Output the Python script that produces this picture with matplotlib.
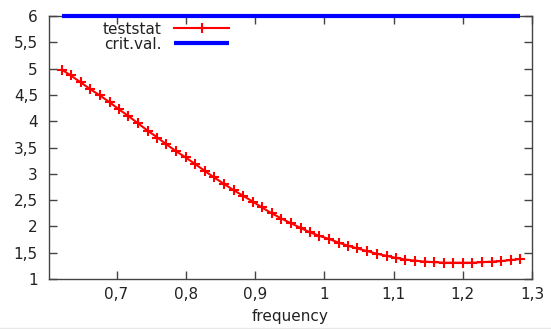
import matplotlib
matplotlib.use('Agg')
import matplotlib.pyplot as plt
import matplotlib.ticker as ticker
from matplotlib.lines import Line2D

# values
frequency = [0.621, 0.634, 0.648, 0.662, 0.676, 0.690, 0.703, 0.717, 0.731, 0.745,
             0.759, 0.772, 0.786, 0.800, 0.814, 0.828, 0.841, 0.855, 0.869, 0.883,
             0.897, 0.910, 0.924, 0.938, 0.952, 0.966, 0.979, 0.993, 1.007, 1.021,
             1.035, 1.048, 1.062, 1.076, 1.090, 1.104, 1.117, 1.131, 1.145, 1.159,
             1.173, 1.186, 1.200, 1.214, 1.228, 1.242, 1.255, 1.269, 1.283]
teststat = [4.98, 4.87, 4.74, 4.61, 4.49, 4.36, 4.23, 4.10, 3.96, 3.82,
            3.69, 3.56, 3.43, 3.31, 3.18, 3.05, 2.93, 2.81, 2.69, 2.58,
            2.47, 2.36, 2.25, 2.15, 2.06, 1.97, 1.89, 1.82, 1.76, 1.69,
            1.63, 1.58, 1.53, 1.48, 1.44, 1.40, 1.37, 1.35, 1.33, 1.32,
            1.31, 1.31, 1.31, 1.31, 1.32, 1.33, 1.34, 1.36, 1.38]
crit_val = [6.0] * len(frequency)

x_ticks = [0.7, 0.8, 0.9, 1.0, 1.1, 1.2, 1.3]
y_ticks = [1, 1.5, 2, 2.5, 3, 3.5, 4, 4.5, 5, 5.5, 6]

plt.rcParams['font.family'] = 'DejaVu Sans'
plt.rcParams['font.size'] = 11

fig = plt.figure(figsize=(5.51, 3.29), dpi=100)
ax = fig.add_axes([49 / 551, 1 - 279 / 329, (532 - 49) / 551, (279 - 16) / 329])

ax.plot(frequency, teststat, color='#ff0000', linewidth=1.5, marker='+',
        markersize=7, markeredgewidth=1.5, label='teststat', clip_on=False, zorder=3)
ax.plot(frequency, crit_val, color='#0000ff', linewidth=3, label='crit.val.',
        clip_on=False, zorder=4, solid_capstyle='butt')

ax.set_xlim(0.6025, 1.3)
ax.set_ylim(1, 6)
ax.xaxis.set_major_locator(ticker.FixedLocator(x_ticks))
ax.yaxis.set_major_locator(ticker.FixedLocator(y_ticks))

def comma(v, pos):
    s = ('%.1f' % v).rstrip('0').rstrip('.')
    return s.replace('.', ',')

ax.xaxis.set_major_formatter(ticker.FuncFormatter(comma))
ax.yaxis.set_major_formatter(ticker.FuncFormatter(comma))

for s in ax.spines.values():
    s.set_color('#444444')
    s.set_linewidth(1.0)
ax.tick_params(direction='in', length=6, width=1, color='#444444',
               top=True, right=True, labelcolor='#222222')
ax.tick_params(axis='x', pad=6)
ax.tick_params(axis='y', pad=8)

ax.set_xlabel('frequency', labelpad=5, color='#222222')

leg = ax.legend(loc='upper right', bbox_to_anchor=(0.379, 0.99), frameon=False,
                markerfirst=False, numpoints=1, handlelength=3.6,
                handletextpad=0.8, labelspacing=0.0, borderpad=0.2,
                borderaxespad=0)
for t in leg.get_texts():
    t.set_color('#222222')

# faint separator line at the very bottom, as in the reference screenshot
fig.add_artist(Line2D([0, 1], [1.5 / 329, 1.5 / 329], transform=fig.transFigure,
                      color='#e8e8e8', linewidth=1))

fig.savefig('out.png', dpi=100)
